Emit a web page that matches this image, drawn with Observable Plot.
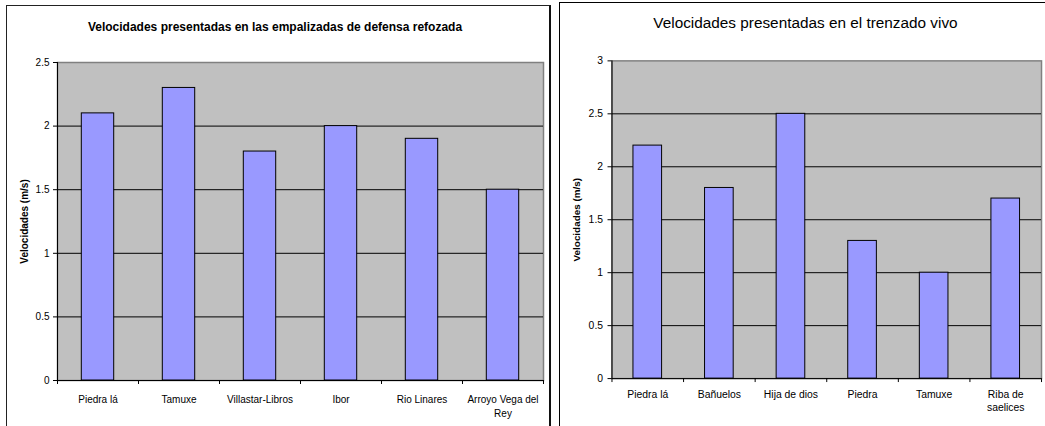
<!DOCTYPE html>
<html><head><meta charset="utf-8">
<script src="https://cdn.jsdelivr.net/npm/d3@7"></script>
<script src="https://cdn.jsdelivr.net/npm/@observablehq/plot@0.6"></script>
<style>
body{margin:0;background:#fff;}
#wrap{position:relative;width:1045px;height:426px;overflow:hidden;font-family:"Liberation Sans",Arial,sans-serif;}
.frame{position:absolute;box-sizing:border-box;}
.chart{position:absolute;top:0;}
.chart svg{overflow:visible;}
</style></head><body>
<div id="wrap">
 <div class="frame" style="left:6px;top:5px;width:545px;height:440px;border:1px solid #222;border-right:2px solid #111;"></div>
 <div class="frame" style="left:559px;top:2px;width:500px;height:440px;border:1px solid #000;"></div>
 <div class="chart" id="c1" style="left:0"></div>
 <div class="chart" id="c2" style="left:560px"></div>
</div>
<script>
const yLabel = "Velocidades (m/s)";

const title1 = "Velocidades presentadas en las empalizadas de defensa refozada";
const cats1 = ["Piedra lá","Tamuxe","Villastar-Libros","Ibor","Rio Linares","Arroyo Vega del Rey"];
const labels1 = ["Piedra lá","Tamuxe","Villastar-Libros","Ibor","Rio Linares","Arroyo Vega del\nRey"];
const vals1 = [2.1, 2.3, 1.8, 2.0, 1.9, 1.5];
const ticks1 = [0, 0.5, 1, 1.5, 2, 2.5];

const title2 = "Velocidades presentadas en el trenzado vivo";
const cats2 = ["Piedra lá","Bañuelos","Hija de dios","Piedra","Tamuxe","Riba de saelices"];
const labels2 = ["Piedra lá","Bañuelos","Hija de dios","Piedra","Tamuxe","Riba de\nsaelices"];
const vals2 = [2.2, 1.8, 2.5, 1.3, 1.0, 1.7];
const ticks2 = [0, 0.5, 1, 1.5, 2, 2.5, 3];

function makeChart(cfg) {
  const {cats, labels, vals, ticks, title, width, height, mL, mR, mT, mB,
         titleDx, titleDy, titleSize, titleWeight, labDx, fs, xPad, xLH, yPad} = cfg;
  const n = cats.length;
  const data = cats.map((c, i) => ({i, cat: c, v: vals[i]}));
  const max = ticks[ticks.length - 1];
  const bounds = d3.range(n + 1);
  const centers = d3.range(n).map(i => i + 0.5);
  const font = "'Liberation Sans', Arial, sans-serif";
  return Plot.plot({
    width, height,
    marginLeft: mL, marginRight: mR, marginTop: mT, marginBottom: mB,
    style: {fontFamily: font, background: "transparent", color: "#000"},
    x: {type: "linear", domain: [0, n]},
    y: {domain: [0, max]},
    marks: [
      Plot.frame({fill: "#C0C0C0", stroke: "#808080", strokeWidth: 1.5}),
      Plot.ruleY(ticks.filter(t => t > 0 && t < max), {stroke: "#000", strokeWidth: 1}),
      Plot.rectY(data, {x1: d => d.i + 0.3, x2: d => d.i + 0.7, y1: 0, y2: "v",
                        fill: "#9999FF", stroke: "#000", strokeWidth: 1}),
      Plot.ruleY([0], {stroke: "#000", strokeWidth: 1}),
      Plot.ruleX([0], {y1: 0, y2: max, stroke: "#000", strokeWidth: 1}),
      Plot.axisX({ticks: bounds, tickSize: 4, tickFormat: () => "", label: null, stroke: "#000"}),
      Plot.axisY({ticks, tickSize: 4, tickPadding: yPad, fontSize: fs, label: null,
                  tickFormat: d => String(d), stroke: "#000"}),
      Plot.axisX({ticks: centers, tickSize: 0, tickPadding: xPad, fontSize: fs, label: null,
                  lineHeight: xLH, tickFormat: d => labels[Math.floor(d)]}),
      Plot.text([yLabel], {frameAnchor: "left", dx: labDx, rotate: -90, fontWeight: "bold",
                           fontSize: 10, textAnchor: "middle", lineAnchor: "middle", fill: "#000"}),
      Plot.text([title], {frameAnchor: "top", dx: titleDx, dy: titleDy, lineAnchor: "middle",
                          textAnchor: "middle", fontSize: titleSize, fontWeight: titleWeight, fill: "#000"})
    ]
  });
}

document.getElementById("c1").append(makeChart({
  cats: cats1, labels: labels1, vals: vals1, ticks: ticks1, title: title1,
  width: 552, height: 426, mL: 57, mR: 9, mT: 62, mB: 46,
  titleDx: -25.5, titleDy: -35.5, titleSize: 12, titleWeight: "bold",
  labDx: -33, fs: 10, xPad: 12.5, xLH: 1.4, yPad: 4
}));

document.getElementById("c2").append(makeChart({
  cats: cats2, labels: labels2, vals: vals2, ticks: ticks2, title: title2,
  width: 490, height: 426, mL: 52, mR: 4, mT: 61, mB: 44,
  titleDx: -21.5, titleDy: -38, titleSize: 15.5, titleWeight: "normal",
  labDx: -35, fs: 10.5, xPad: 11, xLH: 1.2, yPad: 5
}));
</script>
</body></html>
